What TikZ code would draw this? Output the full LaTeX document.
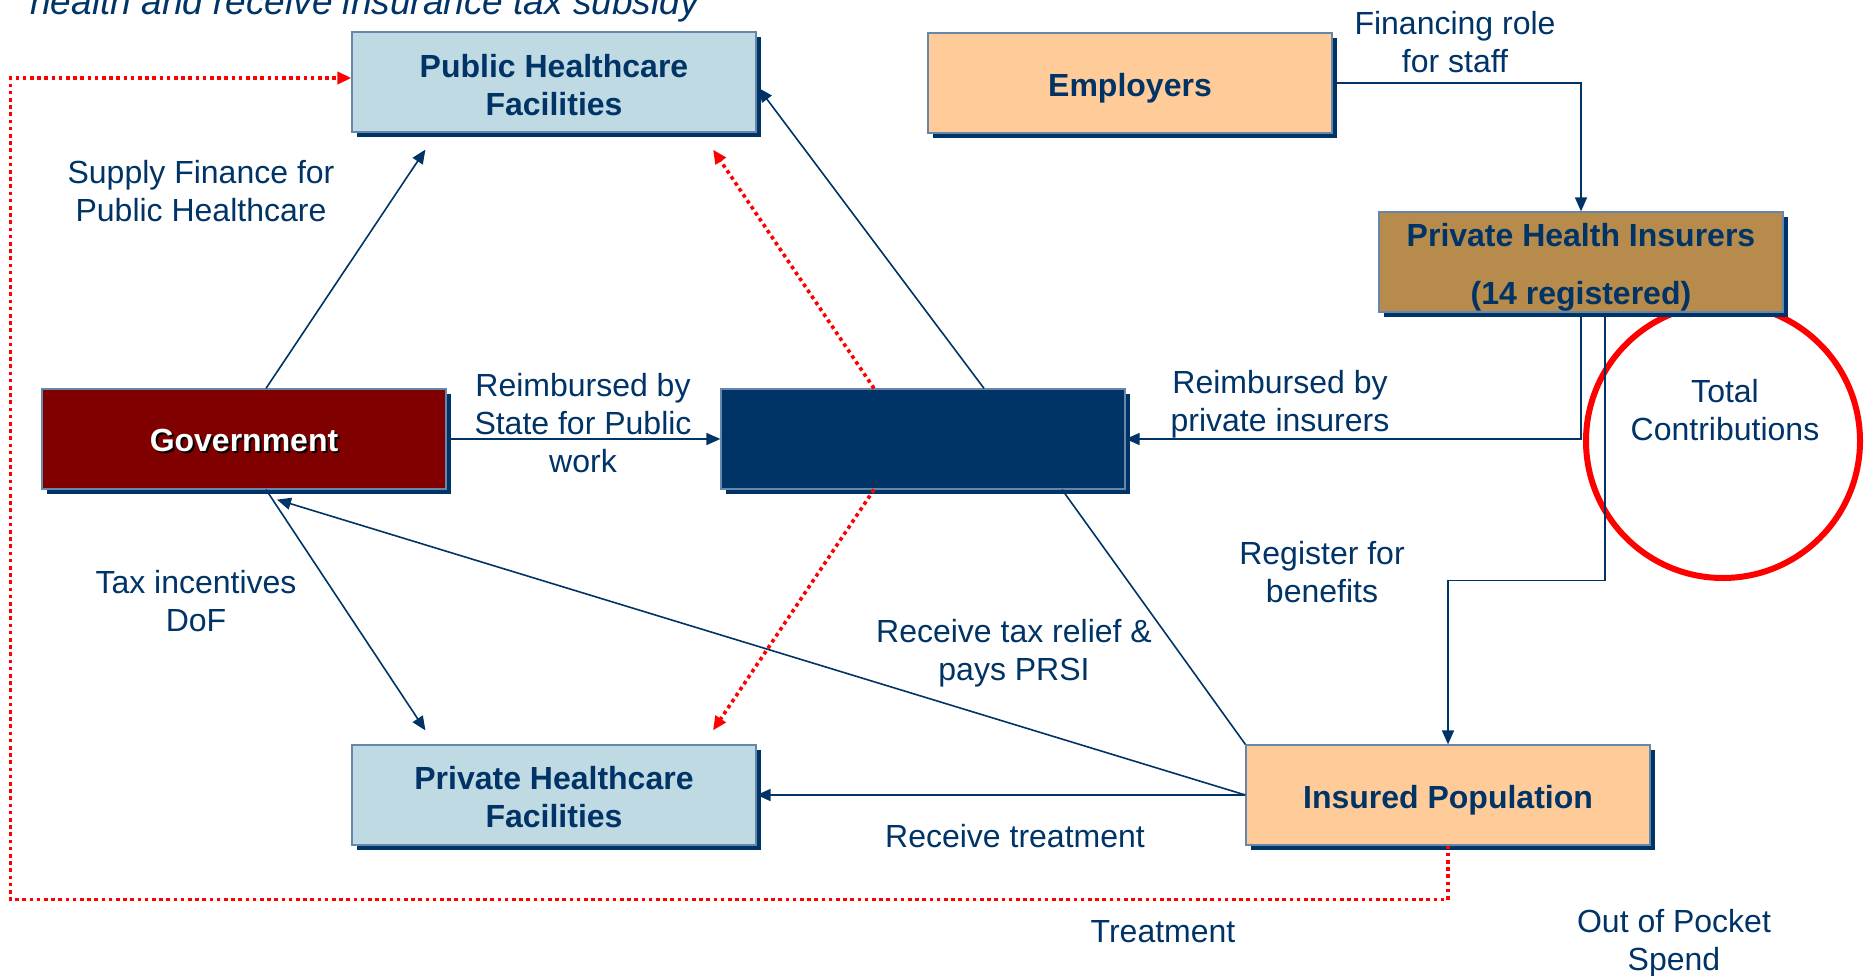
\documentclass[tikz,border=0pt]{standalone}
\usepackage{fontspec}
\setmainfont{Liberation Sans}
\usetikzlibrary{arrows.meta,calc,shadows}
\definecolor{navy}{RGB}{0,51,102}
\definecolor{lblue}{RGB}{192,218,228}
\definecolor{peach}{RGB}{255,204,153}
\definecolor{goldbox}{RGB}{183,139,76}
\definecolor{maroonbox}{RGB}{128,0,0}
\definecolor{bordr}{RGB}{100,135,170}
\definecolor{redl}{RGB}{255,0,0}
\begin{document}
\begin{tikzpicture}[x=0.5pt,y=-0.5pt,
  box/.style={draw=bordr, line width=0.6pt, minimum width=202pt, minimum height=50pt, inner sep=0pt, general shadow={fill=navy, shadow xshift=2.7pt, shadow yshift=-2.7pt}},
  btxt/.style={inner sep=0pt, align=center, text=navy, font=\fontsize{16}{19}\selectfont\bfseries},
  lbl/.style={text=navy, align=center, inner sep=0pt, font=\fontsize{16}{19}\selectfont},
  conn/.style={draw=navy, line width=0.8pt},
  arr/.style={conn, -{Triangle[length=7pt,width=6pt]}},
  reddot/.style={draw=redl, line width=1.8pt, dash pattern=on 1.8pt off 1.8pt},
  redarr/.style={reddot, -{Triangle[length=7pt,width=6pt]}}
]
\useasboundingbox (0,0) rectangle (1864,975);

% title fragment
\node[anchor=base west, inner sep=0pt, text=navy, font=\fontsize{18.5}{22}\selectfont\itshape] (title) at (30,14) {health and receive insurance tax subsidy};

% red circle
\node[draw=redl, line width=3pt, circle, minimum size=137pt, inner sep=0pt] (circ) at (1723,441) {};

% boxes
\node[box, fill=lblue] (pub) at (554,82) {};
\node[btxt] (pubt) at ($(pub)+(0,3)$) {Public Healthcare\\Facilities};
\node[box, fill=peach] (emp) at (1130,83) {};
\node[btxt] (empt) at ($(emp)+(0,5)$) {Employers};
\node[box, fill=goldbox] (pi) at (1581,262) {};
\node[btxt, font=\fontsize{16}{29}\selectfont\bfseries] (pit) at ($(pi)+(0,5)$) {Private Health Insurers\\(14 registered)};
\node[box, fill=maroonbox] (gov) at (244,439) {};
\node[inner sep=0pt, text=black, font=\fontsize{16}{19}\selectfont\bfseries] (govshadow) at ($(gov)+(2,3)$) {Government};
\node[inner sep=0pt, text=white, font=\fontsize{16}{19}\selectfont\bfseries] (govtext) at ($(gov)+(0,1)$) {Government};
\node[box, fill=navy] (cen) at (923,439) {};
\node[box, fill=lblue] (prv) at (554,795) {};
\node[btxt] (prvt) at ($(prv)+(0,2)$) {Private Healthcare\\Facilities};
\node[box, fill=peach] (ins) at (1448,795) {};
\node[btxt] (inst) at ($(ins)+(0,5)$) {Insured Population};

% labels
\node[lbl] (l1) at (201,191) {Supply Finance for\\Public Healthcare};
\node[lbl] (l2) at (583,423) {Reimbursed by\\State for Public\\work};
\node[lbl] (l3) at (196,601) {Tax incentives\\DoF};
\node[lbl] (l4) at (1455,42) {Financing role\\for staff};
\node[lbl] (l5) at (1280,404) {Reimbursed by\\private insurers};
\node[lbl] (l6) at (1725,410) {Total\\Contributions};
\node[lbl] (l7) at (1322,572) {Register for\\benefits};
\node[lbl] (l8) at (1014,653) {Receive tax relief \&\\pays PRSI};
\node[lbl] (l9) at (1015,836) {Receive treatment};
\node[lbl] (l10) at (1163,932) {Treatment};
\node[lbl] (l11) at (1674,943) {Out of Pocket\\Spend};

% connectors
\draw[arr] ($(gov.north)+(22,0)$) -- ($(pub.south west)+(74,17)$);
\draw[arr] ($(gov.south)+(22,0)$) -- ($(prv.north west)+(74,-14)$);
\draw[arr] (gov.east) -- (cen.west);
\draw[arr] (pi.south) |- (cen.east);
\draw[arr] (emp.east) -| (pi.north);
\draw[arr] ($(pi.south)+(24,0)$) -- ++(0,268) -| (ins.north);
\draw[arr] (ins.west) -- ($(gov.south)+(33,10)$);
\draw[arr] (ins.west) -- (prv.east);
\draw[arr] ($(cen.north)+(61,0)$) -- ($(pub.east)+(2,6)$);
\draw[conn] ($(cen.south)+(139,0)$) -- (ins.north west);
\draw[redarr] ($(cen.north)+(-49,0)$) -- ($(pub.south)+(159,17)$);
\draw[redarr] ($(cen.south)+(-49,0)$) -- ($(prv.north)+(159,-14)$);
\draw[redarr] (ins.south) -- ++(0,54) -| ($(pub.west)+(-341,-4)$) -- ($(pub.west)+(0,-4)$);
\end{tikzpicture}
\end{document}
